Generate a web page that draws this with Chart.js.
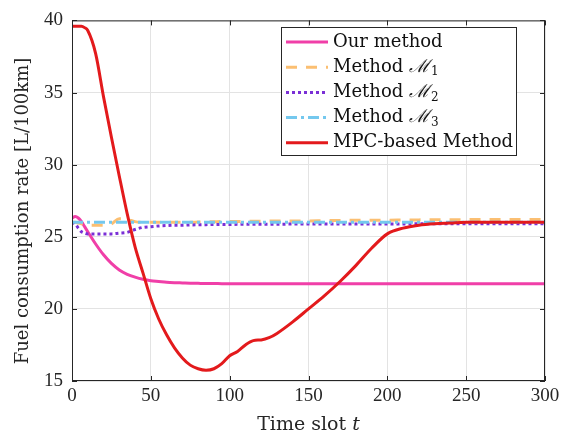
<!DOCTYPE html>
<html>
<head>
<meta charset="utf-8">
<script src="https://cdn.jsdelivr.net/npm/chart.js@4.4.1/dist/chart.umd.min.js"></script>
<style>
  html, body { margin: 0; padding: 0; background: #fff; }
  #box { width: 568px; height: 436px; }
</style>
</head>
<body>
<div id="box"><canvas id="myChart" width="568" height="436"></canvas></div>
<script>
// time slots (x values) shared by every series
var timeSlots = [0, 2, 4, 6, 8, 10, 15, 20, 25, 30, 35, 40, 45, 50, 55, 60, 65, 70, 75, 80,
  85, 90, 95, 100, 105, 110, 115, 120, 125, 130, 140, 150, 160, 170, 180, 190, 200,
  210, 220, 230, 240, 250, 260, 270, 280, 290, 300];

var ourMethod = [26.3, 26.4, 26.3, 26.05, 25.7, 25.35, 24.5, 23.75, 23.15, 22.7, 22.4, 22.2, 22.05, 21.95, 21.9, 21.85, 21.82, 21.8,
  21.78, 21.77, 21.76, 21.76, 21.75, 21.75, 21.75, 21.75, 21.75, 21.75, 21.75, 21.75, 21.75, 21.75, 21.75, 21.75, 21.75,
  21.75, 21.75, 21.75, 21.75, 21.75, 21.75, 21.75, 21.75, 21.75, 21.75, 21.75, 21.75];

var methodM1 = [26.0, 26.0, 25.95, 25.9, 25.85, 25.8, 25.8, 25.8, 25.9, 26.25, 26.2, 26.05, 26.0, 26.0, 26.0, 26.0, 26.0, 26.0,
  26.0, 26.02, 26.03, 26.04, 26.05, 26.05, 26.06, 26.07, 26.08, 26.08, 26.09, 26.1, 26.1, 26.1, 26.12, 26.13, 26.14,
  26.15, 26.15, 26.16, 26.17, 26.18, 26.18, 26.19, 26.2, 26.2, 26.2, 26.2, 26.2];

var methodM2 = [26.0, 25.9, 25.6, 25.35, 25.25, 25.2, 25.2, 25.2, 25.2, 25.25, 25.3, 25.5, 25.65, 25.7, 25.75, 25.78, 25.8, 25.8,
  25.82, 25.83, 25.84, 25.85, 25.85, 25.85, 25.86, 25.86, 25.86, 25.87, 25.87, 25.87, 25.88, 25.88, 25.88, 25.88, 25.89,
  25.89, 25.89, 25.89, 25.9, 25.9, 25.9, 25.9, 25.9, 25.9, 25.9, 25.9, 25.9];

var methodM3 = [26.0, 26.0, 26.0, 26.0, 26.0, 26.0, 26.0, 26.0, 26.0, 26.0, 26.0, 26.0, 26.0, 26.0, 26.0, 26.0, 26.0, 26.0,
  26.0, 26.0, 26.0, 26.0, 26.0, 26.0, 26.0, 26.0, 26.0, 26.0, 26.0, 26.0, 26.0, 26.0, 26.0, 26.0, 26.0,
  26.0, 26.0, 26.0, 26.0, 26.0, 26.0, 26.0, 26.0, 26.0, 26.0, 26.0, 26.0];

var mpcMethod = [39.6, 39.6, 39.6, 39.6, 39.5, 39.3, 37.7, 34.7, 31.9, 29.2, 26.6, 24.3, 22.5, 20.7, 19.3, 18.2, 17.3, 16.6,
  16.1, 15.85, 15.75, 15.85, 16.2, 16.75, 17.05, 17.5, 17.8, 17.85, 18.0, 18.3, 19.1, 20.0, 20.9, 21.9, 23.0,
  24.2, 25.2, 25.6, 25.8, 25.9, 25.95, 26.0, 26.0, 26.0, 26.0, 26.0, 26.0];

var xTicks = [0, 50, 100, 150, 200, 250, 300];
var yTicks = [15, 20, 25, 30, 35, 40];

var seriesNames = ['Our method', 'Method ', 'Method ', 'Method ', 'MPC-based Method'];
var seriesSubs = ['', '1', '2', '3', ''];

var serifFont = '"Liberation Serif", "DejaVu Serif", serif';
var wideFont = '"DejaVu Serif", serif';

function toPoints(values) {
  var pts = [];
  for (let i = 0; i < timeSlots.length; i++) {
    pts.push({ x: timeSlots[i], y: values[i] });
  }
  return pts;
}

// MATLAB style box, inward ticks, axis titles and the legend
var matlabLook = {
  id: 'matlabLook',
  afterDatasetsDraw: function (chart) {
    var ctx = chart.ctx;
    var area = chart.chartArea;
    var xs = chart.scales.x;
    var ys = chart.scales.y;
    ctx.save();
    ctx.strokeStyle = '#262626';
    ctx.lineWidth = 1;
    ctx.strokeRect(area.left + 0.5, area.top + 0.5, area.right - area.left - 1, area.bottom - area.top - 1);
    ctx.beginPath();
    xTicks.forEach(function (t) {
      var px = Math.round(xs.getPixelForValue(t)) + 0.5;
      ctx.moveTo(px, area.bottom); ctx.lineTo(px, area.bottom - 5);
      ctx.moveTo(px, area.top); ctx.lineTo(px, area.top + 5);
    });
    yTicks.forEach(function (v) {
      var py = Math.round(ys.getPixelForValue(v)) + 0.5;
      ctx.moveTo(area.left, py); ctx.lineTo(area.left + 5, py);
      ctx.moveTo(area.right, py); ctx.lineTo(area.right - 5, py);
    });
    ctx.stroke();

    // axis titles
    ctx.fillStyle = '#262626';
    ctx.textBaseline = 'alphabetic';
    var a = 'Time slot ';
    ctx.font = '19px ' + wideFont;
    var wa = ctx.measureText(a).width;
    ctx.font = 'italic 19px ' + wideFont;
    var wb = ctx.measureText('t').width;
    var cx = (area.left + area.right) / 2;
    var x0 = cx - (wa + wb) / 2;
    ctx.font = '19px ' + wideFont;
    ctx.textAlign = 'left';
    ctx.fillText(a, x0, 430);
    ctx.font = 'italic 19px ' + wideFont;
    ctx.fillText('t', x0 + wa, 430);

    ctx.save();
    ctx.translate(28, 211);
    ctx.rotate(-Math.PI / 2);
    ctx.font = '18px ' + wideFont;
    ctx.textAlign = 'center';
    ctx.fillText('Fuel consumption rate [L/100km]', 0, 0);
    ctx.restore();

    // legend
    var lx = 281, ly = 27, lw = 235, lh = 128;
    ctx.fillStyle = '#ffffff';
    ctx.fillRect(lx, ly, lw, lh);
    ctx.strokeStyle = '#262626';
    ctx.strokeRect(lx + 0.5, ly + 0.5, lw, lh);
    chart.data.datasets.forEach(function (ds, i) {
      var ry = 42 + i * 25.2;
      ctx.save();
      ctx.strokeStyle = ds.borderColor;
      ctx.lineWidth = ds.borderWidth;
      ctx.setLineDash(ds.borderDash || []);
      ctx.beginPath();
      ctx.moveTo(286, ry);
      ctx.lineTo(328, ry);
      ctx.stroke();
      ctx.restore();
      ctx.fillStyle = '#111';
      ctx.textAlign = 'left';
      ctx.textBaseline = 'middle';
      ctx.font = '18px ' + wideFont;
      ctx.fillText(seriesNames[i], 333, ry);
      if (seriesSubs[i]) {
        var w = ctx.measureText(seriesNames[i]).width;
        ctx.font = 'italic 18px ' + wideFont;
        ctx.fillText('\u2133', 333 + w, ry);
        var wm = ctx.measureText('\u2133').width;
        ctx.font = '12px ' + wideFont;
        ctx.fillText(seriesSubs[i], 333 + w + wm + 1, ry + 5);
      }
    });
    ctx.restore();
  }
};

var ctx = document.getElementById('myChart');
var myChart = new Chart(ctx, {
  type: 'line',
  data: {
    datasets: [{
      label: 'Our method',
      data: toPoints(ourMethod),
      borderColor: '#f03fa8',
      borderWidth: 3,
      order: 4
    },
    {
      label: 'Method M1',
      data: toPoints(methodM1),
      borderColor: '#fbbf72',
      borderWidth: 3,
      borderDash: [11, 9],
      order: 3
    },
    {
      label: 'Method M2',
      data: toPoints(methodM2),
      borderColor: '#7a2fd6',
      borderWidth: 3,
      borderDash: [3, 3],
      order: 2
    },
    {
      label: 'Method M3',
      data: toPoints(methodM3),
      borderColor: '#74c8ee',
      borderWidth: 3,
      borderDash: [11, 4, 3, 4],
      order: 1
    },
    {
      label: 'MPC-based Method',
      data: toPoints(mpcMethod),
      borderColor: '#e31a1c',
      borderWidth: 3,
      order: 0
    }]
  },
  options: {
    responsive: false,
    animation: false,
    layout: { padding: { left: 0, right: 23, top: 18, bottom: 0 } },
    elements: {
      point: { radius: 0 },
      line: { cubicInterpolationMode: 'monotone' }
    },
    plugins: {
      legend: { display: false },
      tooltip: { enabled: false }
    },
    scales: {
      x: {
        type: 'linear',
        min: 0,
        max: 300,
        afterFit: function (scale) { scale.height = 55; },
        afterBuildTicks: function (scale) { scale.ticks = xTicks.map(function (v) { return { value: v }; }); },
        grid: { color: '#e3e3e3', drawTicks: false },
        border: { display: false },
        ticks: { padding: 4, color: '#262626', font: { family: serifFont, size: 19 } }
      },
      y: {
        min: 15,
        max: 40,
        afterFit: function (scale) { scale.width = 72; },
        afterBuildTicks: function (scale) { scale.ticks = yTicks.map(function (v) { return { value: v }; }); },
        grid: { color: '#e3e3e3', drawTicks: false },
        border: { display: false },
        ticks: { padding: 9, color: '#262626', font: { family: serifFont, size: 19 } }
      }
    }
  },
  plugins: [matlabLook]
});
</script>
</body>
</html>
